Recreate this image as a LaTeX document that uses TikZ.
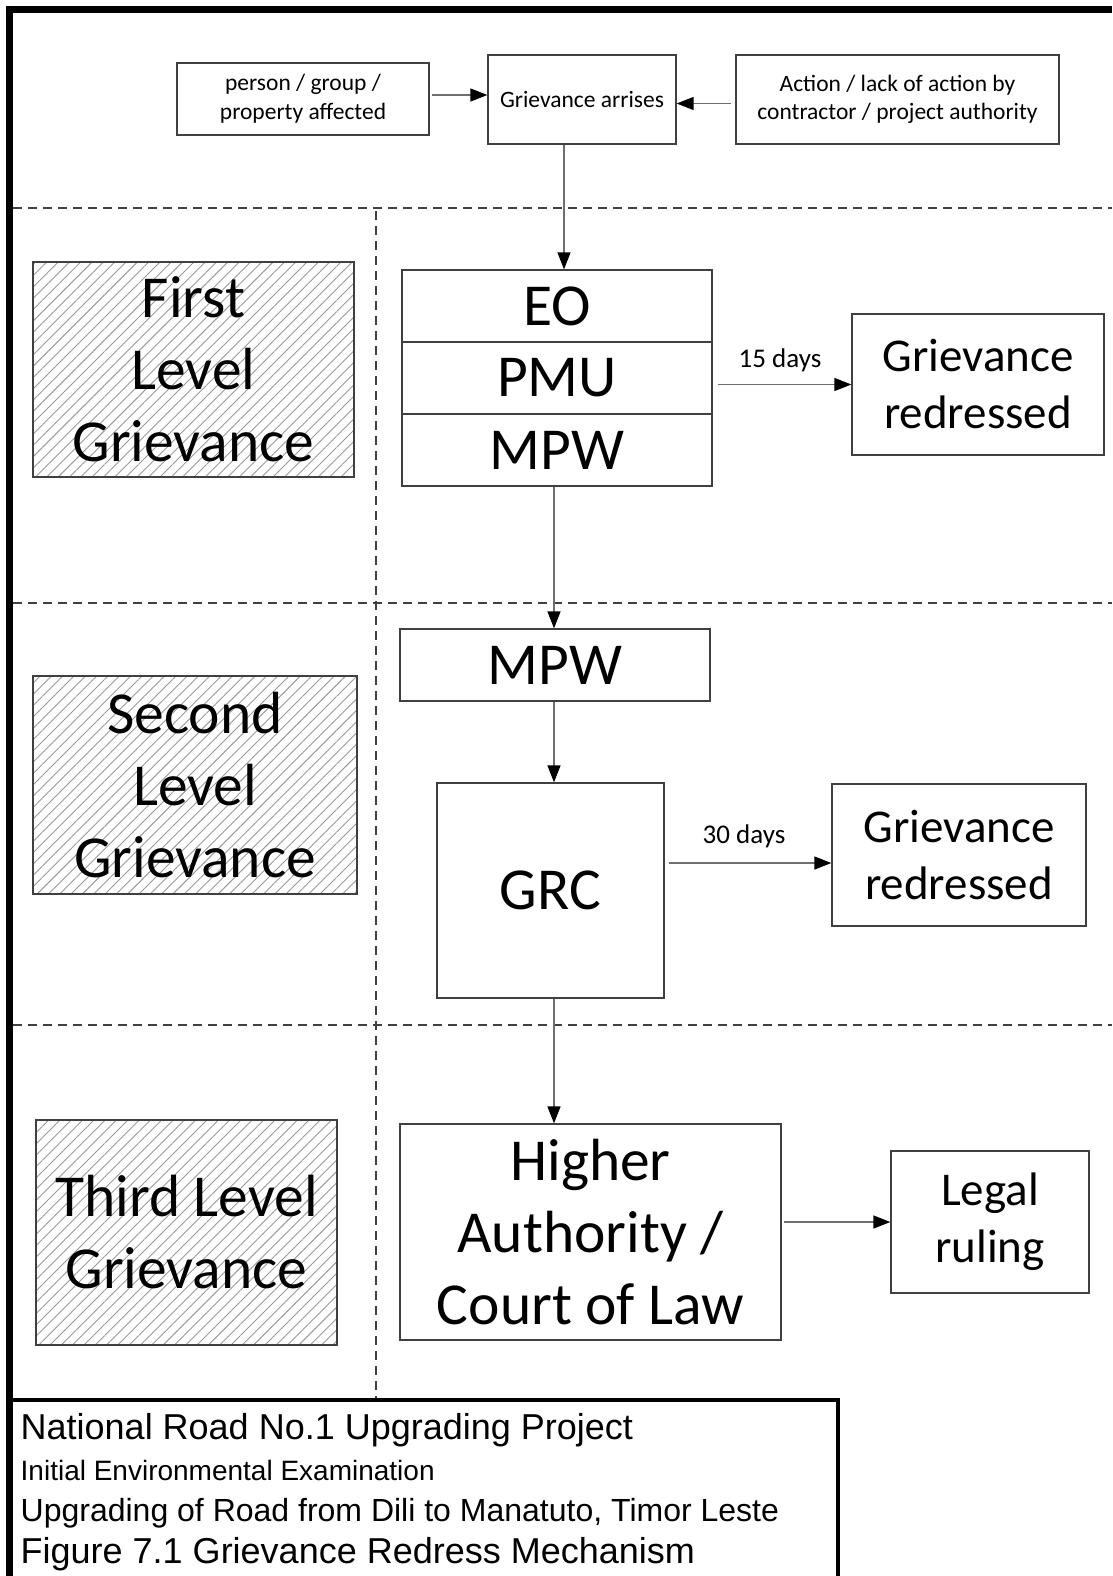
\documentclass[tikz,border=0pt]{standalone}
\usepackage{fontspec}
\setmainfont{Carlito}
\newfontfamily\arialfont{Liberation Sans}
\usepackage{tikz}
\usetikzlibrary{arrows.meta,patterns.meta}
\usepackage{xcolor}

\definecolor{boxline}{HTML}{404040}
\definecolor{linkgray}{HTML}{6E6E6E}
\definecolor{hatch}{HTML}{999999}

\newcommand{\smalltxt}{\fontsize{23.5}{28.7}\selectfont}
\newcommand{\daytxt}{\fontsize{27}{32}\selectfont}
\newcommand{\midtxt}{\fontsize{47}{57}\selectfont}
\newcommand{\bigtxt}{\fontsize{59.5}{72}\selectfont}

\begin{document}
\begin{tikzpicture}[x=1pt, y=-1pt, ->, >={Triangle[length=17pt,width=13pt,color=black]}, line width=1.4pt, draw=linkgray]
  \tikzstyle{every node}=[inner sep=0pt, align=center, text=black]
  \tikzstyle{box}=[draw=boxline, line width=1.3pt]
  \tikzstyle{level}=[box, pattern={Lines[angle=45,distance=8pt,line width=0.9pt]}, pattern color=hatch, font=\bigtxt]
  \tikzstyle{dayline}=[font=\daytxt]

  \useasboundingbox (0,0) rectangle (1112,1576);

  % frame and title block
  \draw[-, draw=black, line width=7pt] (9.5,1576) -- (9.5,9.5) -- (1112,9.5);
  \draw[-, draw=black, line width=4.5pt] (9.5,1400) -| (838,1576);

  % level separators
  \draw[-, draw=boxline, dash pattern=on 9pt off 6pt] (13,208) -- (1112,208);
  \draw[-, draw=boxline, dash pattern=on 9pt off 6pt] (13,603) -- (1112,603);
  \draw[-, draw=boxline, dash pattern=on 9pt off 6pt] (13,1025) -- (1112,1025);
  \draw[-, draw=boxline, dash pattern=on 9pt off 6pt] (376,211) -- (376,1398);

  % top row
  \node[box, font=\smalltxt, minimum width=252pt, minimum height=72pt] (person) at (303,99) {person / group /\\property affected};
  \node[box, font=\smalltxt, minimum width=188pt, minimum height=89pt] (arise) at (582,99.5) {Grievance arrises};
  \node[box, font=\smalltxt, minimum width=323pt, minimum height=89pt] (action) at (897.5,99.5) {Action / lack of action by\\contractor / project authority};

  % first level
  \node[level, minimum width=321pt, minimum height=215pt] (first) at (193.5,369.5) {First\\Level\\Grievance};
  \node[box, font=\bigtxt, minimum width=310pt, minimum height=72pt] (eo) at (557,306) {EO};
  \node[box, font=\bigtxt, minimum width=310pt, minimum height=72pt] (pmu) at (557,378) {PMU};
  \node[box, font=\bigtxt, minimum width=310pt, minimum height=72pt] (mpwa) at (557,450) {MPW};
  \node[box, font=\midtxt, minimum width=252pt, minimum height=141pt] (redra) at (978,384.5) {Grievance\\redressed};
  \node[dayline] (daysa) at (780,360) {15 days};

  % second level
  \node[level, minimum width=324pt, minimum height=218pt] (second) at (195,785) {Second\\Level\\Grievance};
  \node[box, font=\bigtxt, minimum width=310pt, minimum height=72pt] (mpwb) at (555,665) {MPW};
  \node[box, font=\bigtxt, minimum width=227pt, minimum height=215pt] (grc) at (550.5,890.5) {GRC};
  \node[box, font=\midtxt, minimum width=254pt, minimum height=142pt] (redrb) at (959,855) {Grievance\\redressed};
  \node[dayline] (daysb) at (744,836) {30 days};

  % third level
  \node[level, minimum width=301pt, minimum height=225pt] (third) at (186.5,1232.5) {Third Level\\Grievance};
  \node[box, font=\bigtxt, minimum width=381pt, minimum height=216pt] (higher) at (590.5,1232) {Higher\\Authority /\\Court of Law};
  \node[box, font=\midtxt, minimum width=198pt, minimum height=142pt] (legal) at (990,1222) {Legal\\ruling};

  % connectors
  \draw[shorten <=2pt] ([yshift=4pt]person.east) -- ([yshift=4pt]person.east -| arise.west);
  \draw[shorten <=4pt] ([yshift=-4pt]action.west) -- ([yshift=-4pt]action.west -| arise.east);
  \draw ([xshift=-18pt]arise.south) -- ([xshift=-18pt]arise.south |- eo.north);
  \draw[shorten <=5pt] (redra.west -| pmu.east) -- (redra.west);
  \draw ([xshift=-3pt]mpwa.south) -- ([xshift=-3pt]mpwa.south |- mpwb.north);
  \draw ([xshift=-1pt]mpwb.south) -- ([xshift=-1pt]mpwb.south |- grc.north);
  \draw[shorten <=4pt] ([yshift=-8pt]redrb.west -| grc.east) -- ([yshift=-8pt]redrb.west);
  \draw ([xshift=3.5pt]grc.south) -- ([xshift=3.5pt]grc.south |- higher.north);
  \draw[shorten <=2pt] (legal.west -| higher.east) -- (legal.west);

  % title block text
  \node[anchor=base west, font=\arialfont\fontsize{36}{43}\selectfont] (tline) at (20,1439) {National Road No.1 Upgrading Project};
  \node[anchor=base west, font=\arialfont\fontsize{28}{34}\selectfont] (tiee) at (20,1480) {Initial Environmental Examination};
  \node[anchor=base west, font=\arialfont\fontsize{32}{38}\selectfont] (troad) at (20,1521) {Upgrading of Road from Dili to Manatuto, Timor Leste};
  \node[anchor=base west, font=\arialfont\fontsize{36}{43}\selectfont] (tfig) at (20,1563) {Figure 7.1 Grievance Redress Mechanism};
\end{tikzpicture}
\end{document}
